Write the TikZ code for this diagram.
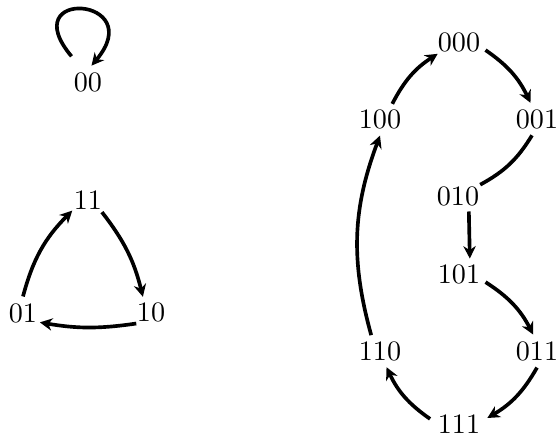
\documentclass[tikz,border=0pt]{standalone}
\usepackage{tikz}
\usetikzlibrary{arrows.meta}
\usetikzlibrary{shapes.geometric}
\usetikzlibrary{calc}
\tikzset{>={Stealth[length=4.4pt,width=4.4pt,inset=1.4pt]}}
\tikzstyle{state}=[ellipse,inner sep=0pt,minimum height=0.4cm]
\tikzstyle{trans}=[->,line width=1.3pt]

\begin{document}
\begin{tikzpicture}[x=0.0125cm,y=0.0125cm]
  \useasboundingbox (0,0) rectangle (560,436);
  % fixed point
  \node[state] (n00) at (88,354) {00};
  \draw[trans] ($(n00.130)+(-5,12)$) .. controls +(130:90) and +(50:90) .. (n00.78);
  % cycle of length 3
  \node[state] (n11) at (88,236) {11};
  \node[state] (n01) at (23,123) {01};
  \node[state] (n10) at (151,124) {10};
  \draw[trans] (n01.90) to[bend left=15] (n11.214);
  \draw[trans] (n11.319) to[bend left=12] (n10.118);
  \draw[trans] (n10.218) to[bend left=9] (n01.331);
  % cycle of length 8
  \node[state] (n000) at (459,394) {000};
  \node[state] (n100) at (380,317) {100};
  \node[state] (n001) at (537,317) {001};
  \node[state] (n010) at (458,240) {010};
  \node[state] (n101) at (459,162) {101};
  \node[state] (n110) at (380,85) {110};
  \node[state] (n011) at (537,85) {011};
  \node[state] (n111) at (459,12) {111};
  \draw[trans] (n100.51) to[bend left=15] (n000.209);
  \draw[trans] (n000.-17) to[bend left=15] (n001.112);
  \draw[line width=1.3pt] (n001.253) to[bend left=15] (n010.27);
  \draw[trans] (n010.305) -- (n101.55);
  \draw[trans] (n101.-17) to[bend left=15] (n011.103);
  \draw[trans] (n011.270) to[bend left=15] (n111.12);
  \draw[trans] (n111.170) to[bend left=15] (n110.292);
  \draw[trans] (n110.119) to[bend left=18] (n100.270);
\end{tikzpicture}
\end{document}
